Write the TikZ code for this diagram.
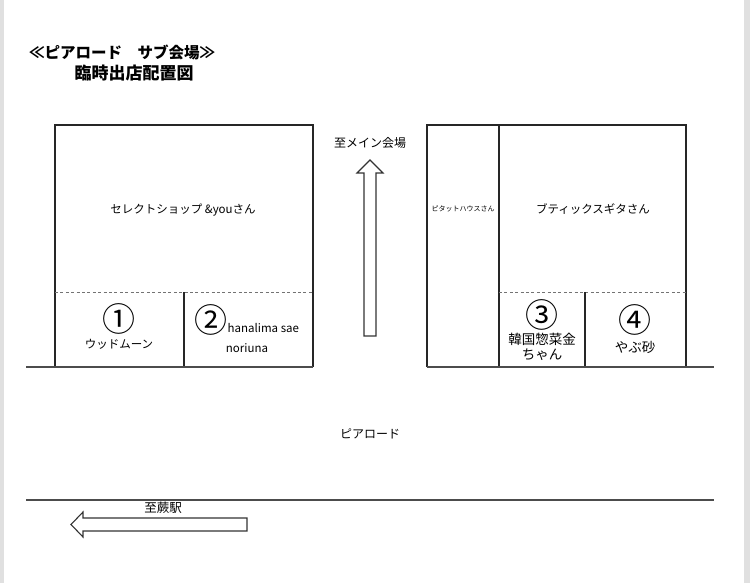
\documentclass[tikz,border=0pt]{standalone}
\usepackage{fontspec}
\setmainfont{Noto Sans CJK JP}
\usetikzlibrary{positioning}

\begin{document}
\begin{tikzpicture}[x=1pt,y=-1pt,
    wall/.style={line width=1.3pt,draw=black!85},
    road/.style={line width=1.8pt,draw=black!70},
    split/.style={line width=1pt,draw=black!55,dash pattern=on 3pt off 2.4pt},
    lab/.style={font=\fontsize{11.5}{13}\selectfont,inner sep=0pt},
    big/.style={font=\fontsize{13.5}{15}\selectfont,inner sep=0pt},
    num/.style={font=\fontsize{33}{33}\selectfont,inner sep=0pt},
    blockarrow/.style={line width=1.1pt,draw=black!80,fill=white}]
  \useasboundingbox (0,0) rectangle (750,583);
  % page edges
  \fill[black!12] (0,0) rectangle (3.5,583);
  \fill[black!12] (744,0) rectangle (750,583);
  % title
  \node[anchor=west,inner sep=0pt,font=\fontsize{15.5}{17}\selectfont\bfseries] (title) at (29,52) {≪ピアロード　サブ会場≫};
  \node[inner sep=0pt,font=\fontsize{17}{19}\selectfont\bfseries] (subtitle) at (134,73) {臨時出店配置図};
  % left block
  \draw[wall] (55,367) |- (313,125) -- (313,367);
  \draw[split] (55,292) -- (313,292);
  \draw[wall] (184,292) -- (184,367);
  % right block
  \draw[wall] (427,367) |- (686,125) -- (686,367);
  \draw[wall] (499,125) -- (499,367);
  \draw[split] (499,292) -- (686,292);
  \draw[wall] (585,292) -- (585,367);
  % roads
  \draw[road] (26,367) -- (313,367);
  \draw[road] (427,367) -- (714,367);
  \draw[road] (26,500) -- (714,500);
  % shops
  \node[lab] (selectshop) at (183,210) {セレクトショップ \&youさん};
  \node[lab,font=\fontsize{7}{8}\selectfont] (pitat) at (463,209) {ピタットハウスさん};
  \node[lab] (sugita) at (593,209) {ブティックスギタさん};
  \foreach \n/\x/\y/\lab in {one/119/319/①,two/211/320/②,three/542/315/③,four/635/320/④}
    \node[num] (\n) at (\x,\y) {\lab};
  \node[lab] (woodmoon) at (119,344) {ウッドムーン};
  \node[lab,anchor=west] (hanalima) at (227.5,328) {hanalima sae};
  \node[lab] (noriuna) at (247,348) {noriuna};
  \node[big] (kankoku) at (542,339) {韓国惣菜金};
  \node[big] (chan) at (542,355) {ちゃん};
  \node[big] (yabusa) at (635,347) {やぶ砂};
  % directions
  \node[lab,font=\fontsize{12}{14}\selectfont] (mainhall) at (370,143) {至メイン会場};
  \draw[blockarrow] (364,336) -- (364,173) -- (357,173) -- (370,160) -- (383,173) -- (376,173) -- (376,336) -- cycle;
  \node[lab,font=\fontsize{12}{14}\selectfont] (pier) at (370,434) {ピアロード};
  \node[lab,font=\fontsize{12.5}{14}\selectfont] (warabi) at (163,508) {至蕨駅};
  \draw[blockarrow] (247,518) -- (83,518) -- (83,512) -- (71,524.5) -- (83,537) -- (83,531) -- (247,531) -- cycle;
\end{tikzpicture}
\end{document}
